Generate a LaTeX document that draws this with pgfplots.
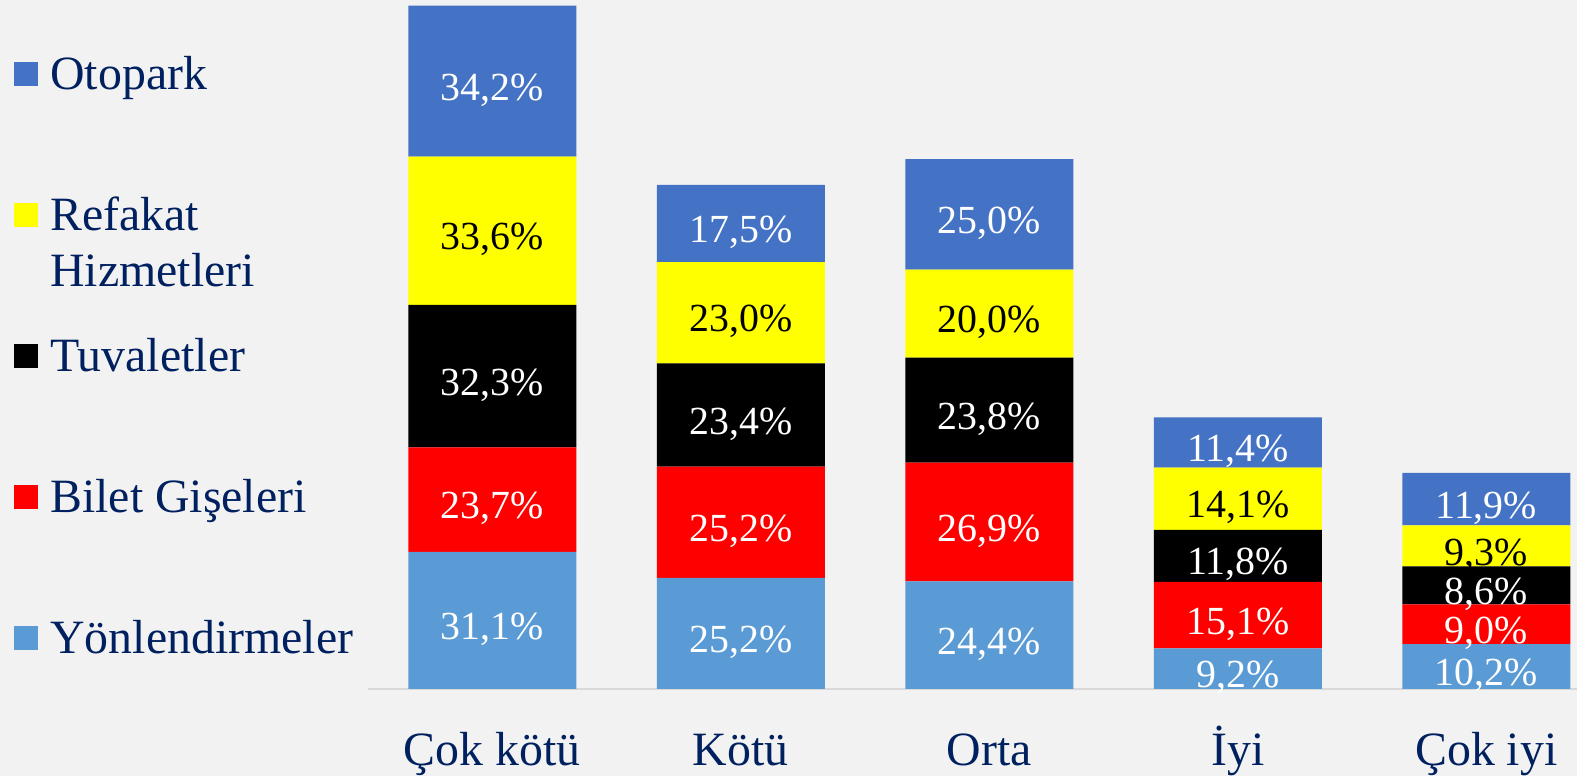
\documentclass[border=0pt]{standalone}
\usepackage{pgfplots}
\pgfplotsset{compat=1.18}
\usepackage{pgfplotstable}
\usepackage{fontspec}
\setmainfont{Liberation Serif}

\definecolor{bg}{HTML}{F2F2F2}
\definecolor{navy}{HTML}{002060}
\definecolor{otopark}{HTML}{4472C4}
\definecolor{yonl}{HTML}{5B9BD5}
\definecolor{refakat}{HTML}{FFFF00}
\definecolor{bilet}{HTML}{FF0000}
\definecolor{axgray}{HTML}{D9D9D9}

% columns: Yonlendirmeler, Bilet Giseleri, Tuvaletler, Refakat, Otopark
\pgfplotstableread{
x yon bil tuv ref oto
0 31.1 23.7 32.3 33.6 34.2
1 25.2 25.2 23.4 23.0 17.5
2 24.4 26.9 23.8 20.0 25.0
3 9.2  15.1 11.8 14.1 11.4
4 10.2 9.0  8.6  9.3  11.9
}\data

\begin{document}
\begin{tikzpicture}
\fill[bg] (0,0) rectangle (788.5bp,388bp);
\useasboundingbox (0,0) rectangle (788.5bp,388bp);
\begin{axis}[
    at={(184bp,43.5bp)}, anchor=south west,
    scale only axis, width=604.5bp, height=344.5bp,
    ybar stacked, bar width=84bp,
    xmin=-0.5, xmax=4.365, ymin=0, ymax=156.2,
    axis y line=none,
    axis x line=bottom,
    x axis line style={draw=axgray, line width=1bp, -},
    major tick length=0pt,
    xtick={0,1,2,3,4},
    xticklabels={Çok kötü, Kötü, Orta, İyi, Çok iyi},
    xticklabel style={font=\fontsize{24}{28}\selectfont, text=navy, anchor=base, yshift=-38bp},
    visualization depends on=rawy \as \rawy,
    nodes near coords={\pgfmathprintnumber[fixed,fixed zerofill,precision=1,use comma,assume math mode=true]{\rawy}\%},
    every node near coord/.append style={anchor=center, yshift=-4.5bp, font=\fontsize{20}{24}\selectfont},
    reverse legend,
    legend image code/.code={\fill[#1] (0bp,-6bp) rectangle (12bp,6bp);},
    legend style={at={(axis description cs:-0.2928,0.9253)}, anchor=north west,
        draw=none, fill=none, inner sep=0pt, row sep=48bp, column sep=4bp,
        font=\fontsize{24}{28}\selectfont, text=navy,
        cells={anchor=west, inner sep=0pt, text height=17bp, text depth=1bp}},
]
\addplot[fill=yonl, draw=none, every node near coord/.append style={text=white}] table[x=x, y=yon] {\data};
\addlegendentry{Yönlendirmeler}
\addplot[fill=bilet, draw=none, every node near coord/.append style={text=white}] table[x=x, y=bil] {\data};
\addlegendentry{Bilet Gişeleri}
\addplot[fill=black, draw=none, every node near coord/.append style={text=white}] table[x=x, y=tuv] {\data};
\addlegendentry{Tuvaletler}
\addplot[fill=refakat, draw=none, every node near coord/.append style={text=black}] table[x=x, y=ref] {\data};
\addlegendentry{\begin{tabular}[t]{@{}l@{}}Refakat\\Hizmetleri\end{tabular}}
\addplot[fill=otopark, draw=none, every node near coord/.append style={text=white}] table[x=x, y=oto] {\data};
\addlegendentry{Otopark}
\end{axis}
\end{tikzpicture}
\end{document}
